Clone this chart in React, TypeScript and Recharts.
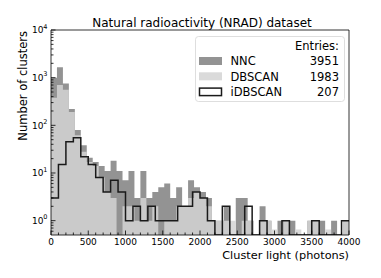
import React from "react";
import { ComposedChart, Area, Line, XAxis, YAxis, ReferenceLine } from "recharts";

// NNC and DBSCAN use 80-photon bins (0..4000), iDBSCAN uses 100-photon bins
const nncCounts = [
  1000, 1650, 750, 220, 80, 38, 21, 17, 14, 11, 18, 11, 7, 11, 3, 11, 3, 4, 5, 6,
  3, 5, 2, 7, 5, 4, 3, 1, 1, 2, 0, 3, 3, 1, 0, 2, 1, 0, 1, 1,
  1, 0, 0, 1, 1, 1, 0, 1, 0, 1,
];
const dbscanCounts = [
  380, 700, 560, 190, 62, 28, 17, 14, 8, 4, 3, 0, 2, 2, 1, 3, 1, 2, 0, 1,
  1, 2, 2, 3, 4, 3, 2, 1, 1, 1, 1, 0, 1, 1, 0, 1, 1, 0.65, 0, 1,
  0, 0.65, 0, 1, 1, 0, 0.65, 0, 0, 1,
];
const idbscanCounts = [
  3, 15, 45, 55, 22, 15, 8, 4, 7, 4, 1, 2, 1, 2, 1, 1, 1, 2, 2, 4,
  3, 1, 0, 2, 0, 0, 2, 0, 1, 0, 0, 1, 0, 0, 0, 1, 0, 0, 0, 1,
];

const legendRows = [
  { name: "NNC", entries: 3951 },
  { name: "DBSCAN", entries: 1983 },
  { name: "iDBSCAN", entries: 207 },
];

const xMajorTicks = [0, 500, 1000, 1500, 2000, 2500, 3000, 3500, 4000];
const yMajorTicks = [1, 10, 100, 1000, 10000];

const X_MAX = 4000;
const FLOOR = 0.5;

const W = 381;
const H = 278;
const PLOT_LEFT = 51;
const PLOT_RIGHT = 349;
const PLOT_TOP = 30;
const PLOT_BOTTOM = 235;

const FONT = "DejaVu Sans, sans-serif";
const NNC_FILL = "#808080";
const DB_FILL = "#d3d3d3";
const OPAC = 0.85;

// minor ticks
const xTicks: number[] = [];
for (let v = 0; v <= X_MAX; v += 100) xTicks.push(v);
const yTicks: number[] = [];
[0.1, 1, 10, 100, 1000].forEach((d) => {
  for (let m = 1; m <= 9; m++) {
    const v = +(m * d).toPrecision(3);
    if (v >= 0.6 && v <= 10000) yTicks.push(v);
  }
});
yTicks.push(10000);

// merged table on the union of bin edges
const edgeSet = new Set<number>();
for (let v = 0; v <= X_MAX; v += 80) edgeSet.add(v);
for (let v = 0; v <= X_MAX; v += 100) edgeSet.add(v);
const edges = Array.from(edgeSet).sort((a, b) => a - b);

const binValue = (arr: number[], width: number, x: number) => {
  const i = Math.min(Math.floor(x / width), arr.length - 1);
  const v = arr[i];
  return v > 0 ? v : FLOOR;
};

const data = edges.map((x) => ({
  x,
  nnc: binValue(nncCounts, 80, x),
  dbscan: binValue(dbscanCounts, 80, x),
  idbscan: binValue(idbscanCounts, 100, x),
}));

const XTick = (props: any) => {
  const { x, payload } = props;
  const v = payload.value;
  const major = xMajorTicks.includes(v);
  return (
    <g>
      <line x1={x} x2={x} y1={PLOT_BOTTOM} y2={PLOT_BOTTOM - (major ? 4.5 : 2.5)} stroke="#000" strokeWidth={0.8} />
      {major && (
        <text x={x} y={PLOT_BOTTOM + 9.5} textAnchor="middle" fontSize={9} fontFamily={FONT} fill="#000">
          {v}
        </text>
      )}
    </g>
  );
};

const YTick = (props: any) => {
  const { y, payload } = props;
  const v = payload.value;
  const major = yMajorTicks.includes(v);
  return (
    <g>
      <line x1={PLOT_LEFT} x2={PLOT_LEFT + (major ? 4.5 : 2.5)} y1={y} y2={y} stroke="#000" strokeWidth={0.8} />
      {major && (
        <text x={47.5} y={y + 3.3} textAnchor="end" fontSize={9} fontFamily={FONT} fill="#000">
          <tspan>10</tspan>
          <tspan dy={-4.5} fontSize={6.5}>
            {Math.round(Math.log10(v))}
          </tspan>
        </text>
      )}
    </g>
  );
};

export default function App() {
  return (
    <div style={{ position: "absolute", left: 0, top: 0, width: W, height: H, background: "#fff" }}>
      <ComposedChart
        width={W}
        height={H}
        data={data}
        margin={{ top: PLOT_TOP, right: W - PLOT_RIGHT, left: 10, bottom: 13 }}
      >
        <Area
          type="stepAfter"
          dataKey="nnc"
          stroke="none"
          fill={NNC_FILL}
          fillOpacity={OPAC}
          baseValue={FLOOR}
          isAnimationActive={false}
        />
        <Area
          type="stepAfter"
          dataKey="dbscan"
          stroke="none"
          fill={DB_FILL}
          fillOpacity={OPAC}
          baseValue={FLOOR}
          isAnimationActive={false}
        />
        <Line
          type="stepAfter"
          dataKey="idbscan"
          stroke="#1a1a1a"
          strokeWidth={1.5}
          dot={false}
          isAnimationActive={false}
        />
        <XAxis
          dataKey="x"
          type="number"
          domain={[0, X_MAX]}
          ticks={xTicks}
          interval={0}
          height={30}
          tickLine={false}
          tick={<XTick />}
          axisLine={{ stroke: "#000", strokeWidth: 0.8 }}
        />
        <YAxis
          type="number"
          scale="log"
          domain={[FLOOR, 10000]}
          allowDataOverflow
          ticks={yTicks}
          interval={0}
          width={41}
          tickLine={false}
          tick={<YTick />}
          axisLine={{ stroke: "#000", strokeWidth: 0.8 }}
        />
        <ReferenceLine y={10000} stroke="#000" strokeWidth={0.8} />
        <ReferenceLine x={X_MAX} stroke="#000" strokeWidth={0.8} />
      </ComposedChart>

      <svg
        width={W}
        height={H}
        style={{ position: "absolute", left: 0, top: 0, pointerEvents: "none" }}
        fontFamily={FONT}
      >
        <text x={202} y={27} textAnchor="middle" fontSize={12} fill="#000">
          Natural radioactivity (NRAD) dataset
        </text>
        <text x={PLOT_RIGHT} y={258.5} textAnchor="end" fontSize={11.3} fill="#000">
          Cluster light (photons)
        </text>
        <text x={27} y={31} textAnchor="end" fontSize={11.5} fill="#000" transform="rotate(-90 27 31)">
          Number of clusters
        </text>

        <rect x={195.5} y={36.5} width={149} height={65} rx={3} fill="#fff" fillOpacity={0.8} stroke="#d6d6d6" strokeWidth={0.8} />
        <text x={339} y={49.5} textAnchor="end" fontSize={11.5} fill="#000">
          Entries:
        </text>
        {legendRows.map((r, i) => {
          const cy = 61 + i * 15.3;
          const fill = i === 0 ? NNC_FILL : i === 1 ? DB_FILL : "none";
          return (
            <g key={r.name}>
              {i < 2 ? (
                <rect x={199} y={cy - 4} width={23} height={8} fill={fill} fillOpacity={OPAC} />
              ) : (
                <rect x={199.5} y={cy - 3.5} width={22} height={7.5} fill="#fff" stroke="#1a1a1a" strokeWidth={1.5} />
              )}
              <text x={230.5} y={cy + 4.2} fontSize={11.5} fill="#000">
                {r.name}
              </text>
              <text x={339} y={cy + 4.2} textAnchor="end" fontSize={11.5} fill="#000">
                {r.entries}
              </text>
            </g>
          );
        })}
      </svg>
    </div>
  );
}
